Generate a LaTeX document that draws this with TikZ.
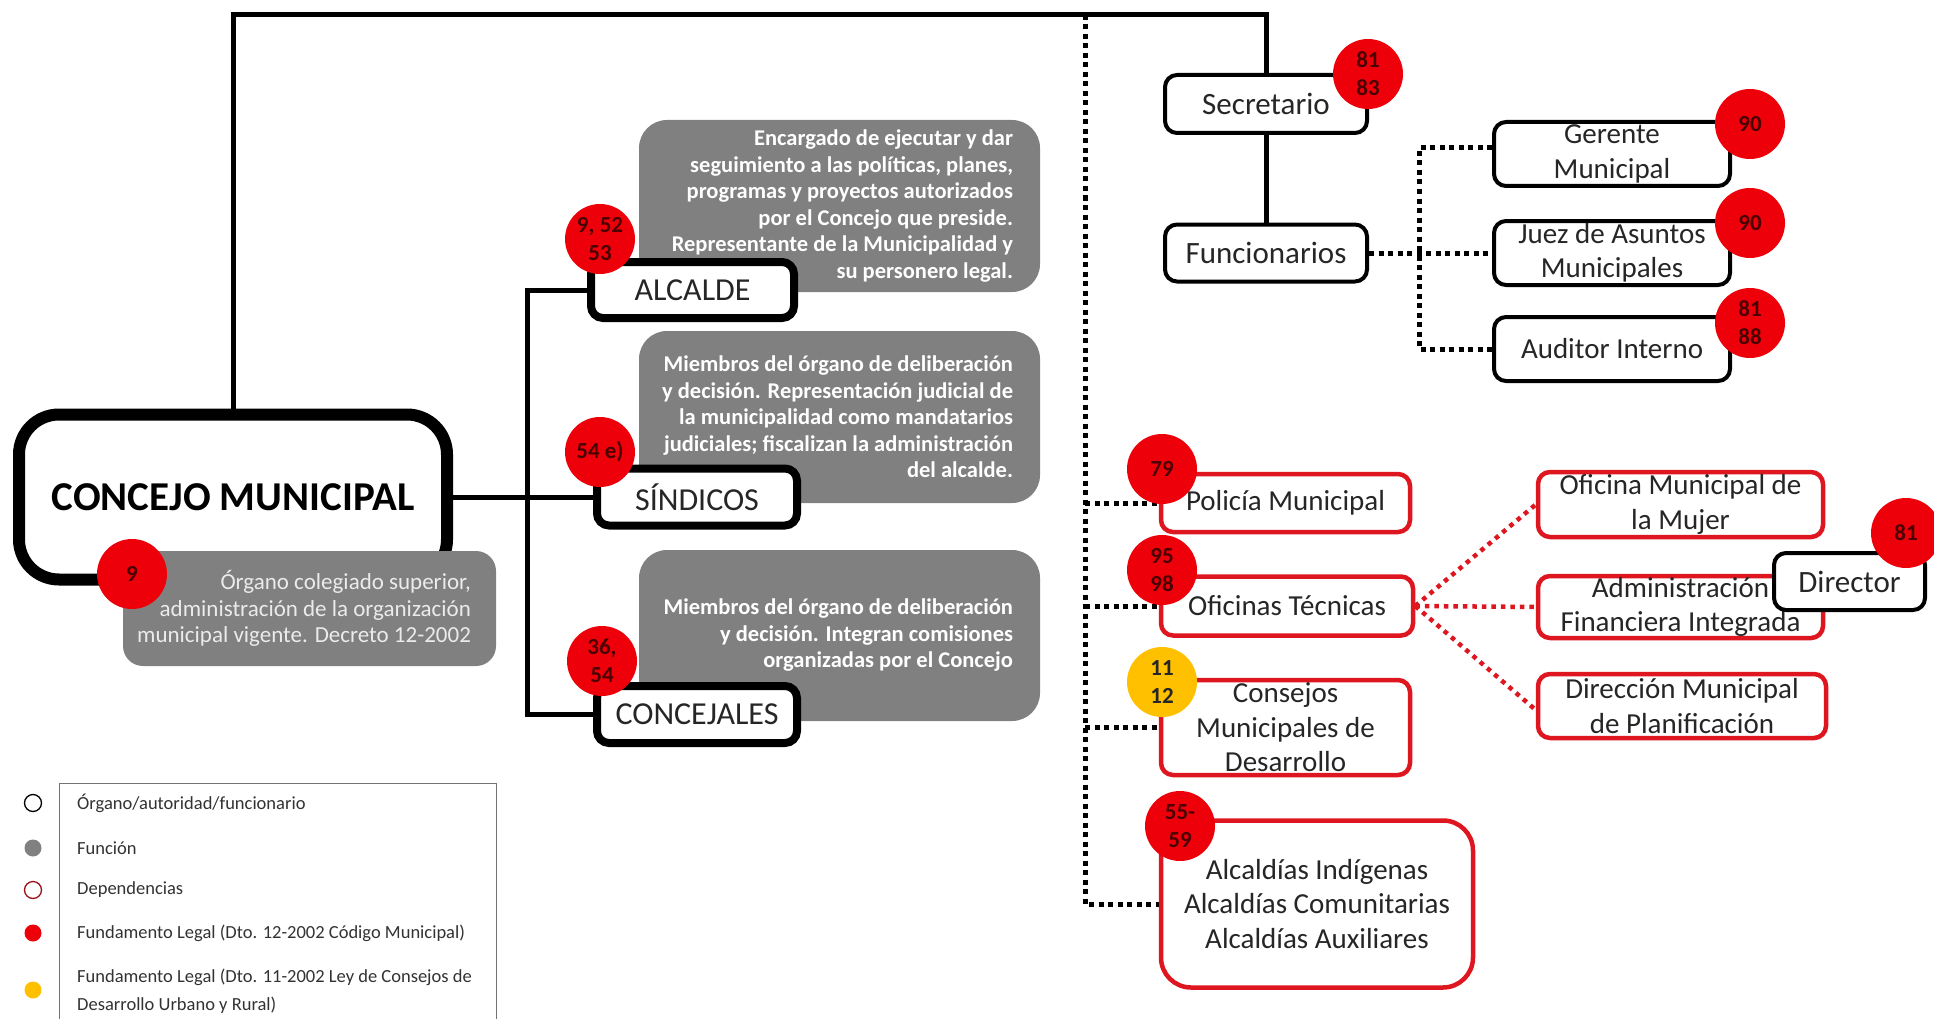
\documentclass[tikz,border=0pt]{standalone}
\usepackage{fontspec}
\setmainfont{Carlito}
\definecolor{cred}{RGB}{238,0,10}
\definecolor{bred}{RGB}{222,22,32}
\definecolor{gbox}{RGB}{128,128,128}
\definecolor{cyel}{RGB}{255,192,0}
\definecolor{ctxt}{RGB}{75,0,0}
\definecolor{ldark}{RGB}{50,50,50}
\tikzset{
 orgbox/.style={draw=black, fill=white, line width=4pt, rounded corners=12pt, inner sep=0pt, align=center, font=\fontsize{31}{34.5}\selectfont, text=black!85},
 mainbox/.style={orgbox, line width=8pt, font=\fontsize{32}{34}\selectfont},
 depbox/.style={orgbox, draw=bred, line width=4.5pt, font=\fontsize{29}{34.5}\selectfont},
 graybox/.style={fill=gbox, rounded corners=28pt, inner sep=0pt},
 graytext/.style={text=white, font=\bfseries\fontsize{22.5}{26.5}\selectfont, align=right, inner sep=0pt, anchor=east},
 refc/.style={circle, fill=cred, minimum size=70pt, inner sep=0pt, align=center, text=ctxt, font=\bfseries\fontsize{23}{28}\selectfont},
 conn/.style={line width=5pt},
 dotconn/.style={line width=5pt, dash pattern=on 5pt off 4.5pt},
 reddot/.style={line width=4.5pt, dash pattern=on 4.5pt off 5pt, draw=bred},
 legtext/.style={anchor=west, inner sep=0pt, text=ldark, align=left, font=\fontsize{18.5}{28}\selectfont},
 legc/.style={circle, minimum size=17pt, inner sep=0pt},
}
\begin{document}
\begin{tikzpicture}[x=1pt, y=-1pt]
\useasboundingbox (0,0) rectangle (1934,1019);

% ---------- Concejo Municipal ----------
\node[orgbox, line width=12pt, rounded corners=40pt, minimum width=428pt, minimum height=165pt,
      font=\bfseries\fontsize{41}{44}\selectfont, text=black] (concejo) at (233,497) {CONCEJO MUNICIPAL};
\node[graybox, rounded corners=20pt, minimum width=373pt, minimum height=115pt] (gcon) at (309.5,608.5) {};
\node[graytext, font=\fontsize{23}{26.5}\selectfont, text=white!92!black] (tcon) at ([xshift=-25pt]gcon.east)
 {Órgano colegiado superior,\\administración de la organización\\municipal vigente. Decreto 12-2002};
\node[refc] (c9) at (132,574) {9};

% ---------- gray function boxes ----------
\node[graybox, minimum width=401pt, minimum height=172pt] (galc) at (839.5,206) {};
\node[graytext] (talc) at ([xshift=-27pt]galc.east)
 {Encargado de ejecutar y dar\\seguimiento a las políticas, planes,\\programas y proyectos autorizados\\por el Concejo que preside.\\Representante de la Municipalidad y\\su personero legal.};
\node[graybox, minimum width=401pt, minimum height=172pt] (gsin) at (839.5,417) {};
\node[graytext] (tsin) at ([xshift=-27pt]gsin.east)
 {Miembros del órgano de deliberación\\y decisión. Representación judicial de\\la municipalidad como mandatarios\\judiciales; fiscalizan la administración\\del alcalde.};
\node[graybox, minimum width=401pt, minimum height=171pt] (gcjl) at (839.5,635.5) {};
\node[graytext] (tcjl) at ([xshift=-27pt]gcjl.east)
 {Miembros del órgano de deliberación\\y decisión. Integran comisiones\\organizadas por el Concejo};

% ---------- Alcalde, Síndicos, Concejales ----------
\node[mainbox, minimum width=203pt, minimum height=56pt] (alc) at (692.5,290) {ALCALDE};
\node[mainbox, minimum width=200pt, minimum height=57pt] (sin) at (697,497) {SÍNDICOS};
\node[mainbox, minimum width=200pt, minimum height=57pt] (cjl) at (697,714.5) {CONCEJALES};
\coordinate (bx) at (527,0);
\draw[conn] (concejo.east) -- (sin.west);
\draw[conn] (alc.west) -- (bx |- alc.west) -- (bx |- cjl.west) -- (cjl.west);
\node[refc] (calc) at (600,239) {9, 52\\53};
\node[refc] (csin) at (600,452) {54 e)};
\node[refc] (ccjl) at (602,661) {36,\\54};

% ---------- Secretario / Funcionarios ----------
\node[orgbox, minimum width=202pt, minimum height=58pt] (sec) at (1266,104) {Secretario};
\node[orgbox, minimum width=202pt, minimum height=57pt] (fun) at (1266,253) {Funcionarios};
\coordinate (topR) at (1266,15);
\draw[conn] (concejo.north) |- (topR) -- (sec.north);
\draw[conn] (sec.south) -- (fun.north);
\node[refc] (csec) at (1368,74) {81\\83};

\node[orgbox, minimum width=236pt, minimum height=64pt, font=\fontsize{29}{34.5}\selectfont] (ger) at (1612,154) {Gerente\\Municipal};
\node[orgbox, minimum width=236pt, minimum height=64pt, font=\fontsize{29}{34.5}\selectfont] (juez) at (1612,253) {Juez de Asuntos\\Municipales};
\node[orgbox, minimum width=236pt, minimum height=64pt, font=\fontsize{29}{34.5}\selectfont] (aud) at (1612,349) {Auditor Interno};
\coordinate (jx) at (1419,0);
\coordinate (gerc) at ([yshift=6pt]ger.west);
\draw[dotconn] (fun.east) -- (juez.west);
\draw[dotconn] (gerc) -- (jx |- gerc) -- (jx |- aud.west) -- (aud.west);
\node[refc] (cger) at (1750,124) {90};
\node[refc] (cjuez) at (1750,223) {90};
\node[refc] (caud) at (1750,323) {81\\88};

% ---------- Dependencias ----------
\node[depbox, minimum width=249pt, minimum height=58pt] (pol) at (1285.5,503) {Policía Municipal};
\node[depbox, minimum width=252pt, minimum height=59pt] (ofi) at (1287,606) {Oficinas Técnicas};
\node[depbox, minimum width=249pt, minimum height=95pt] (cmd) at (1285.5,727.5) {Consejos\\Municipales de\\Desarrollo};
\node[depbox, rounded corners=30pt, minimum width=312pt, minimum height=167pt] (alcs) at (1317,904) {Alcaldías Indígenas\\Alcaldías Comunitarias\\Alcaldías Auxiliares};
\coordinate (dtop) at (1085,15);
\draw[dotconn] (dtop) |- (alcs.west);
\draw[dotconn] (dtop |- pol.west) -- (pol.west);
\draw[dotconn] (dtop |- ofi.west) -- (ofi.west);
\draw[dotconn] (dtop |- cmd.west) -- (cmd.west);
\node[refc] (c79) at (1162,469) {79};
\node[refc] (c95) at (1162,570) {95\\98};
\node[refc, fill=cyel, text=black!85] (c11) at (1162,682) {11\\12};
\node[refc] (c55) at (1180,826) {55-\\59};

\node[depbox, minimum width=285pt, minimum height=65pt] (muj) at (1680.5,504.5) {Oficina Municipal de\\la Mujer};
\node[depbox, minimum width=285pt, minimum height=62pt] (afi) at (1680.5,607) {Administración\\Financiera Integrada};
\node[depbox, minimum width=288pt, minimum height=64pt] (dmp) at (1682,706) {Dirección Municipal\\de Planificación};
\coordinate (dmpc) at ([yshift=-4pt]dmp.west);
\draw[reddot] (ofi.east) -- (muj.west);
\draw[reddot] (ofi.east) -- (afi.west);
\draw[reddot] (ofi.east) -- (dmpc);
\node[orgbox, minimum width=151pt, minimum height=57pt] (dirc) at (1849.5,581.5) {Director};
\node[refc] (cdir) at (1906,533) {81};

% ---------- Leyenda ----------
\draw[draw=black!55, line width=1pt] (59,1019) -- (59,783) -- (496,783) -- (496,1019);
\node[legc, draw=black, line width=1.3pt] (l1) at (33,803) {};
\node[legc, fill=gbox] (l2) at (33,848) {};
\node[legc, draw=bred!70!black, line width=1.3pt] (l3) at (33,890) {};
\node[legc, fill=cred] (l4) at (33,933) {};
\node[legc, fill=cyel] (l5) at (33,990) {};
\node[legtext] (t1) at (77,803) {Órgano/autoridad/funcionario};
\node[legtext] (t2) at (77,848) {Función};
\node[legtext] (t3) at (77,890) {Dependencias};
\node[legtext] (t4) at (77,933) {Fundamento Legal (Dto. 12-2002 Código Municipal)};
\node[legtext] (t5) at (77,991) {Fundamento Legal (Dto. 11-2002 Ley de Consejos de\\Desarrollo Urbano y Rural)};
\end{tikzpicture}
\end{document}
